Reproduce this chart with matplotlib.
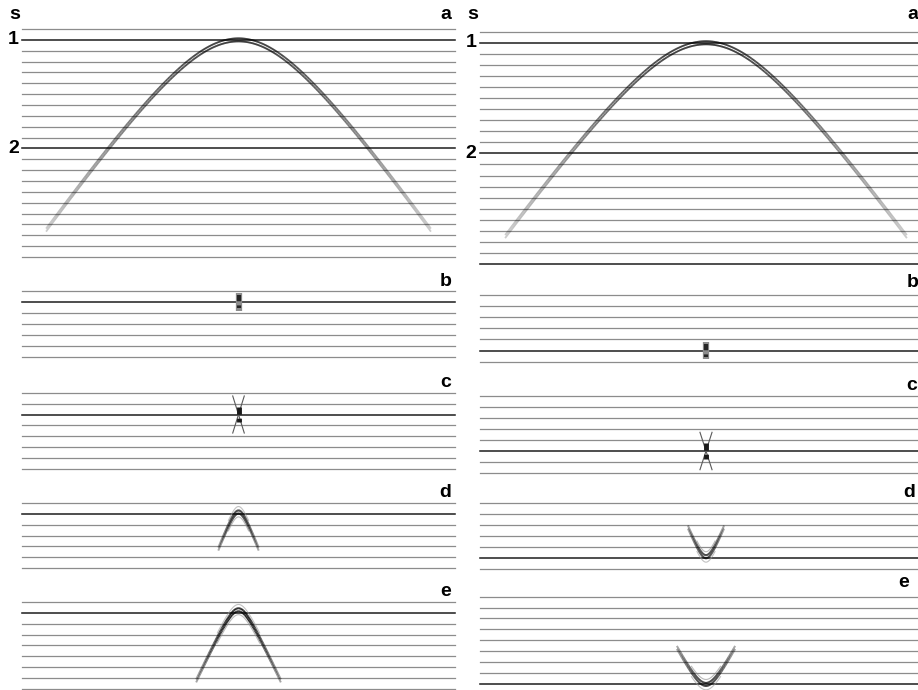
import numpy as np
import matplotlib
matplotlib.use( "Agg" )
import matplotlib.pyplot        as plt
import matplotlib.transforms    as mtr
from matplotlib.collections import LineCollection


# ========================================================= #
# ===  data                                             === #
# ========================================================= #
#  --- trace times (s) of each panel window  --- #
times_a   = [ 0.9 + 0.1*i for i in range(22) ]
times_b   = [ 0.9, 1.0, 1.1, 1.2, 1.3, 1.4, 1.5 ]
times_c   = [ 0.9, 1.0, 1.1, 1.2, 1.3, 1.4, 1.5, 1.6 ]
times_d   = [ 0.9, 1.0, 1.1, 1.2, 1.3, 1.4, 1.5 ]
times_e   = [ 0.9, 1.0, 1.1, 1.2, 1.3, 1.4, 1.5, 1.6, 1.7, 1.8 ]
time_ticks  = [ 1.0, 2.0 ]
time_labels = [ "1", "2" ]
panel_names = [ "a", "b", "c", "d", "e" ]

#  --- hyperbola of panel a : t0 [s], velocity, max offset  --- #
hyp_t0     = 1.0
hyp_vel    = 0.78
hyp_xmax   = 2.0

#  --- event times  (left / right column)  --- #
event_b    = [ 1.0, 1.4 ]
event_c    = [ 1.1, 1.4 ]
#  --- small hyperbolae: apex time, end time, half width, curvature t0  --- #
small_d    = [ ( 0.97, 1.31, 0.21, 0.15 ), ( 1.40, 1.13, 0.18, 0.15 ) ]
small_e    = [ ( 0.955, 1.615, 0.44, 0.20 ), ( 1.72, 1.38, 0.29, 0.20 ) ]

#  --- darker traces (index)  --- #
dark_a     = [ [ 1, 11 ], [ 1, 11, 21 ] ]
dark_b     = [ [ 1 ], [ 5 ] ]
dark_c     = [ [ 2 ], [ 5 ] ]
dark_d     = [ [ 1 ], [ 5 ] ]
dark_e     = [ [ 1 ], [ 8 ] ]


# ========================================================= #
# ===  layout helpers                                   === #
# ========================================================= #
W, H = 918, 690
fig  = plt.figure( figsize=(W/100, H/100), dpi=100 )

def px_axes( x0, x1, y0, y1, tmin, tmax ):
    ax = fig.add_axes( [ x0/W, 1.0-y1/H, (x1-x0)/W, (y1-y0)/H ] )
    ax.set_xlim( -2.25, 2.25 )
    ax.set_ylim( tmax, tmin )
    ax.axis( "off" )
    return( ax )

def draw_traces( ax, times, dark ):
    for ik, t in enumerate( times ):
        if ( ik in dark ):
            ax.plot( [-2.25,2.25], [t,t], color="0.15", lw=1.15, clip_on=False )
        else:
            ax.plot( [-2.25,2.25], [t,t], color="0.55", lw=0.9, clip_on=False )

def fade_curve( ax, x, t, lw=1.2, amin=0.25 ):
    pts   = np.array( [ x, t ] ).T.reshape( -1, 1, 2 )
    segs  = np.concatenate( [ pts[:-1], pts[1:] ], axis=1 )
    xm    = 0.5*( x[:-1] + x[1:] )
    alpha = 1.0 - ( 1.0-amin )*np.abs( xm ) / np.max( np.abs( x ) )
    cols  = np.zeros( ( len(xm), 4 ) )
    cols[:,3] = alpha
    ax.add_collection( LineCollection( segs, colors=cols, linewidths=lw, clip_on=False ) )

def small_hyp( ax, tap, tend, w, t0 ):
    sgn  = 1.0 if tend > tap else -1.0
    dp   = abs( tend - tap )
    v    = w / np.sqrt( ( dp+t0 )**2 - t0**2 )
    x    = np.linspace( -w, w, 121 )
    tt   = tap + sgn*( np.sqrt( t0**2 + (x/v)**2 ) - t0 )
    xs   = np.linspace( -0.5*w, 0.5*w, 61 )
    ts   = tap + sgn*( np.sqrt( t0**2 + (xs/v)**2 ) - t0 )
    ax.plot( xs, ts - sgn*0.035, color="0.6", lw=0.8, alpha=0.6, clip_on=False )
    fade_curve( ax, x, tt,              lw=1.4, amin=0.35 )
    fade_curve( ax, x, tt + sgn*0.028,  lw=1.4, amin=0.35 )
    ax.plot( xs, ts + sgn*0.06, color="0.55", lw=0.8, alpha=0.6, clip_on=False )

def letter( ax, xf, t, s ):
    tr = mtr.blended_transform_factory( ax.transAxes, ax.transData )
    ax.text( xf, t, s, transform=tr, ha="center", va="center",
             fontsize=14, fontweight="bold", family="Liberation Sans", clip_on=False )


# ========================================================= #
# ===  panels                                           === #
# ========================================================= #
cols  = [ ( 22, 455 ), ( 480, 932 ) ]
boxes = { "a": [ ( 29.0, 257.0 ), ( 31.7, 264.0 ) ],
          "b": [ ( 290.7, 357.3 ), ( 295.0, 361.7 ) ],
          "c": [ ( 392.7, 469.0 ), ( 396.0, 473.0 ) ],
          "d": [ ( 502.7, 568.3 ), ( 503.3, 569.3 ) ],
          "e": [ ( 602.3, 699.3 ), ( 596.7, 694.7 ) ] }
times = { "a": times_a, "b": times_b, "c": times_c, "d": times_d, "e": times_e }
darks = { "a": dark_a,  "b": dark_b,  "c": dark_c,  "d": dark_d,  "e": dark_e  }
lpos  = { "a": [ ( 0.978, 0.13 ), ( 0.957, 0.16 ) ],
          "b": [ ( 0.978, 0.08 ), ( 0.957, 0.11 ) ],
          "c": [ ( 0.978, 0.09 ), ( 0.955, 0.10 ) ],
          "d": [ ( 0.978, 0.09 ), ( 0.950, 0.10 ) ],
          "e": [ ( 0.978, 0.10 ), ( 0.938, 0.13 ) ] }

for ic, ( x0, x1 ) in enumerate( cols ):
    for name in panel_names:
        y0, y1 = boxes[name][ic]
        tt     = times[name]
        ax     = px_axes( x0, x1, y0, y1, tt[0], tt[-1] )
        draw_traces( ax, tt, darks[name][ic] )
        xf, dy = lpos[name][ic]
        letter( ax, xf, tt[0]-dy, name )

        if ( name == "a" ):
            letter( ax, -0.016, tt[0]-dy, "s" )
            for tk, tl in zip( time_ticks, time_labels ):
                letter( ax, -0.020, tk, tl )
            x  = np.linspace( -hyp_xmax, hyp_xmax, 601 )
            th = np.sqrt( hyp_t0**2 + ( x/hyp_vel )**2 )
            fade_curve( ax, x, th - 0.014, lw=1.3, amin=0.2 )
            fade_curve( ax, x, th + 0.014, lw=1.3, amin=0.2 )

        elif ( name == "b" ):
            te = event_b[ic]
            ax.plot( [0,0], [te-0.08, te+0.08], color="0.55", lw=4.5, solid_capstyle="butt" )
            ax.plot( [0,0], [te-0.06, te+0.06], color="0.15", lw=3.0, solid_capstyle="butt",
                     dashes=(1.5,1.0) )

        elif ( name == "c" ):
            te = event_c[ic]
            for sg in [ -1.0, 1.0 ]:
                ax.plot( [-0.06, 0.06], [te-0.17*sg, te+0.17*sg], color="0.35", lw=0.8 )
            ax.plot( [0,0], [te-0.07, te+0.07], color="0.1", lw=3.5, solid_capstyle="butt",
                     dashes=(1.5,0.8) )

        elif ( name == "d" ):
            small_hyp( ax, *small_d[ic] )

        elif ( name == "e" ):
            small_hyp( ax, *small_e[ic] )

fig.savefig( "out.png", dpi=100 )
